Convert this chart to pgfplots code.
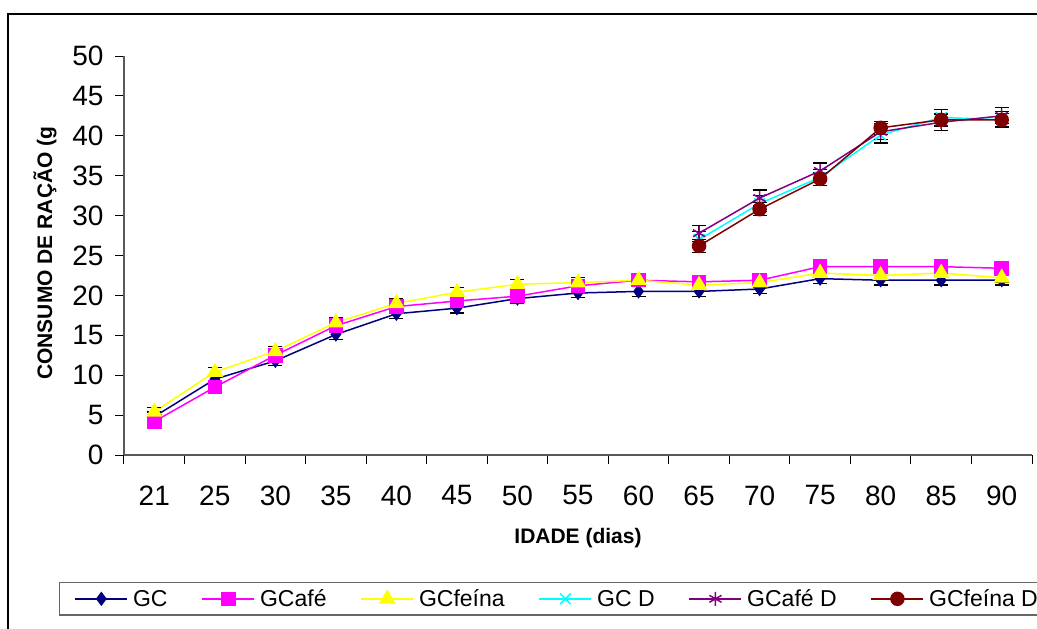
\documentclass[border=0pt]{standalone}
\usepackage{pgfplots}
\usepackage{pgfplotstable}
\pgfplotsset{compat=1.18}
\usepackage{fontspec}
\setmainfont{Liberation Sans}
\definecolor{cnavy}{RGB}{0,0,128}
\definecolor{cmag}{RGB}{255,0,255}
\definecolor{cyel}{RGB}{255,255,0}
\definecolor{ccyan}{RGB}{0,255,255}
\definecolor{cpurp}{RGB}{128,0,128}
\definecolor{cdred}{RGB}{128,0,0}

\pgfplotstableread{
x GC GCafe GCfeina
0 4.8 4.2 5.4
1 9.5 8.5 10.4
2 11.8 12.5 13.0
3 15.1 16.2 16.6
4 17.7 18.6 19.0
5 18.4 19.3 20.4
6 19.6 19.9 21.4
7 20.3 21.2 21.6
8 20.5 21.9 21.9
9 20.5 21.7 21.3
10 20.8 21.9 21.6
11 22.1 23.6 22.8
12 21.9 23.6 22.5
13 21.9 23.6 22.8
14 21.9 23.4 22.2
}\tblA

\pgfplotstableread{
x GCD GCafeD GCfeinaD
9 27.0 27.8 26.2
10 31.5 32.2 30.8
11 34.8 35.6 34.6
12 40.1 40.5 41.0
13 42.3 41.7 42.0
14 42.0 42.5 42.0
}\tblB

\begin{document}
\begin{tikzpicture}
\begin{axis}[
  scale only axis,
  width=908bp, height=399bp,
  xmin=-0.5, xmax=14.5,
  ymin=0, ymax=50,
  axis lines=left,
  axis line style={-, black!65, line width=1.2bp},
  tick align=outside,
  major tick length=9bp,
  tick style={black, line width=1bp},
  ytick={0,5,...,50},
  xtick={-0.5,0.5,...,14.5},
  xticklabels={},
  extra x ticks={0,1,...,14},
  extra x tick labels={21,25,30,35,40,45,50,55,60,65,70,75,80,85,90},
  extra x tick style={major tick length=0pt, xticklabel style={yshift=-27bp}},
  /pgf/number format/assume math mode=true,
  yticklabel={\pgfmathprintnumber{\tick}},
  tick label style={font=\fontsize{28bp}{33bp}\selectfont},
  yticklabel style={xshift=-8bp},
  every axis y label/.style={at={(axis description cs:-0.087,0.506)}, rotate=90, anchor=center},
  every axis x label/.style={at={(axis description cs:0.5,-0.208)}, anchor=center},
  ylabel={CONSUMO DE RAÇÃO (g},
  xlabel={IDADE (dias)},
  label style={font=\fontsize{21bp}{25bp}\selectfont\bfseries},
  legend columns=6,
  legend style={at={(-0.0716,-0.3183)}, anchor=north west, draw=black!60, line width=1.2bp,
    font=\fontsize{23bp}{27bp}\selectfont, inner xsep=15bp, inner ysep=5bp,
    /tikz/every even column/.append style={column sep=29bp},
    nodes={inner xsep=5bp}},
  legend image code/.code={\draw[mark repeat=2,mark phase=2] plot coordinates {(0bp,0bp) (26bp,0bp) (52bp,0bp)};},
  every axis plot/.append style={line width=1.5bp},
  error bars/y dir=both,
  error bars/y fixed=0.6,
  error bars/error mark options={rotate=90, mark size=7bp, black, line width=1.2bp},
  error bars/error bar style={black, line width=1.2bp},
]
\addplot[color=cnavy, mark=diamond*, mark size=6bp, mark options={solid, fill=cnavy}] table[x=x,y=GC] {\tblA};
\addlegendentry{GC}
\addplot[color=cmag, mark=square*, mark size=6.5bp, mark options={solid, fill=cmag}] table[x=x,y=GCafe] {\tblA};
\addlegendentry{GCafé}
\addplot[color=cyel, mark=triangle*, mark size=8bp, mark options={solid, fill=cyel}] table[x=x,y=GCfeina] {\tblA};
\addlegendentry{GCfeína}
\addplot[color=ccyan, mark=x, mark size=7.5bp, mark options={solid}, error bars/y fixed=1.0] table[x=x,y=GCD] {\tblB};
\addlegendentry{GC D}
\addplot[color=cpurp, mark=asterisk, mark size=7bp, mark options={solid}, error bars/y fixed=1.0] table[x=x,y=GCafeD] {\tblB};
\addlegendentry{GCafé D}
\addplot[color=cdred, mark=*, mark size=6.5bp, mark options={solid, fill=cdred}, error bars/y fixed=0.8] table[x=x,y=GCfeinaD] {\tblB};
\addlegendentry{GCfeína D}
\end{axis}
\draw[black, line width=1.3bp] (-116bp,-190bp) -- (-116bp,441bp) -- (930bp,441bp);
\pgfresetboundingbox
\useasboundingbox (-124bp,-174bp) rectangle (913bp,455bp);
\end{tikzpicture}
\end{document}
